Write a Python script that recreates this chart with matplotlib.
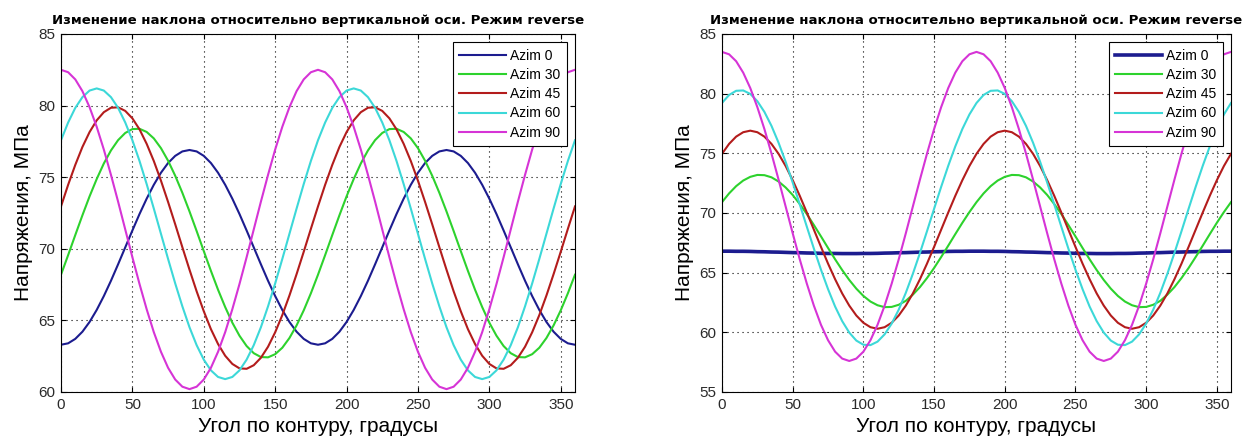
import matplotlib
matplotlib.use("Agg")
import matplotlib.pyplot as plt

# ---------------- data (every 5 degrees) ----------------
angles = [0, 5, 10, 15, 20, 25, 30, 35, 40, 45, 50, 55, 60, 65, 70, 75, 80, 85,
          90, 95, 100, 105, 110, 115, 120, 125, 130, 135, 140, 145, 150, 155, 160, 165, 170, 175,
          180, 185, 190, 195, 200, 205, 210, 215, 220, 225, 230, 235, 240, 245, 250, 255, 260, 265,
          270, 275, 280, 285, 290, 295, 300, 305, 310, 315, 320, 325, 330, 335, 340, 345, 350, 355, 360]

labels = ["Azim 0", "Azim 30", "Azim 45", "Azim 60", "Azim 90"]

# left panel
azim0_left = [63.30, 63.40, 63.71, 64.21, 64.89, 65.73, 66.70, 67.77, 68.92, 70.10, 71.28, 72.43, 73.50, 74.47, 75.31, 75.99, 76.49, 76.80,
              76.90, 76.80, 76.49, 75.99, 75.31, 74.47, 73.50, 72.43, 71.28, 70.10, 68.92, 67.77, 66.70, 65.73, 64.89, 64.21, 63.71, 63.40,
              63.30, 63.40, 63.71, 64.21, 64.89, 65.73, 66.70, 67.77, 68.92, 70.10, 71.28, 72.43, 73.50, 74.47, 75.31, 75.99, 76.49, 76.80,
              76.90, 76.80, 76.49, 75.99, 75.31, 74.47, 73.50, 72.43, 71.28, 70.10, 68.92, 67.77, 66.70, 65.73, 64.89, 64.21, 63.71, 63.40,
              63.30]
azim30_left = [68.19, 69.56, 70.96, 72.34, 73.66, 74.87, 75.96, 76.87, 77.59, 78.09, 78.36, 78.38, 78.16, 77.71, 77.03, 76.15, 75.10, 73.91,
               72.61, 71.24, 69.84, 68.46, 67.14, 65.93, 64.84, 63.93, 63.21, 62.71, 62.44, 62.42, 62.64, 63.09, 63.77, 64.65, 65.70, 66.89,
               68.19, 69.56, 70.96, 72.34, 73.66, 74.87, 75.96, 76.87, 77.59, 78.09, 78.36, 78.38, 78.16, 77.71, 77.03, 76.15, 75.10, 73.91,
               72.61, 71.24, 69.84, 68.46, 67.14, 65.93, 64.84, 63.93, 63.21, 62.71, 62.44, 62.42, 62.64, 63.09, 63.77, 64.65, 65.70, 66.89,
               68.19]
azim45_left = [72.96, 74.47, 75.86, 77.11, 78.15, 78.97, 79.54, 79.85, 79.88, 79.63, 79.11, 78.34, 77.33, 76.13, 74.76, 73.27, 71.71, 70.11,
               68.54, 67.03, 65.64, 64.39, 63.35, 62.53, 61.96, 61.65, 61.62, 61.87, 62.39, 63.16, 64.17, 65.37, 66.74, 68.23, 69.79, 71.39,
               72.96, 74.47, 75.86, 77.11, 78.15, 78.97, 79.54, 79.85, 79.88, 79.63, 79.11, 78.34, 77.33, 76.13, 74.76, 73.27, 71.71, 70.11,
               68.54, 67.03, 65.64, 64.39, 63.35, 62.53, 61.96, 61.65, 61.62, 61.87, 62.39, 63.16, 64.17, 65.37, 66.74, 68.23, 69.79, 71.39,
               72.96]
azim60_left = [77.58, 78.82, 79.84, 80.59, 81.05, 81.20, 81.05, 80.59, 79.84, 78.82, 77.58, 76.13, 74.52, 72.81, 71.05, 69.29, 67.58, 65.98,
               64.52, 63.27, 62.26, 61.51, 61.05, 60.90, 61.05, 61.51, 62.26, 63.27, 64.52, 65.98, 67.58, 69.29, 71.05, 72.81, 74.52, 76.13,
               77.58, 78.82, 79.84, 80.59, 81.05, 81.20, 81.05, 80.59, 79.84, 78.82, 77.58, 76.13, 74.52, 72.81, 71.05, 69.29, 67.58, 65.98,
               64.52, 63.27, 62.26, 61.51, 61.05, 60.90, 61.05, 61.51, 62.26, 63.27, 64.52, 65.98, 67.58, 69.29, 71.05, 72.81, 74.52, 76.13,
               77.58]
azim90_left = [82.50, 82.33, 81.83, 81.01, 79.89, 78.52, 76.93, 75.16, 73.29, 71.35, 69.41, 67.54, 65.78, 64.18, 62.81, 61.69, 60.87, 60.37,
               60.20, 60.37, 60.87, 61.69, 62.81, 64.18, 65.78, 67.54, 69.41, 71.35, 73.29, 75.16, 76.93, 78.52, 79.89, 81.01, 81.83, 82.33,
               82.50, 82.33, 81.83, 81.01, 79.89, 78.52, 76.93, 75.16, 73.29, 71.35, 69.41, 67.54, 65.78, 64.18, 62.81, 61.69, 60.87, 60.37,
               60.20, 60.37, 60.87, 61.69, 62.81, 64.18, 65.78, 67.54, 69.41, 71.35, 73.29, 75.16, 76.93, 78.52, 79.89, 81.01, 81.83, 82.33,
               82.50]

# right panel
azim0_right = [66.80, 66.80, 66.79, 66.79, 66.78, 66.76, 66.75, 66.73, 66.72, 66.70, 66.68, 66.67, 66.65, 66.64, 66.62, 66.61, 66.61, 66.60,
               66.60, 66.60, 66.61, 66.61, 66.62, 66.64, 66.65, 66.67, 66.68, 66.70, 66.72, 66.73, 66.75, 66.76, 66.78, 66.79, 66.79, 66.80,
               66.80, 66.80, 66.79, 66.79, 66.78, 66.76, 66.75, 66.73, 66.72, 66.70, 66.68, 66.67, 66.65, 66.64, 66.62, 66.61, 66.61, 66.60,
               66.60, 66.60, 66.61, 66.61, 66.62, 66.64, 66.65, 66.67, 66.68, 66.70, 66.72, 66.73, 66.75, 66.76, 66.78, 66.79, 66.79, 66.80,
               66.80]
azim30_right = [70.91, 71.64, 72.25, 72.72, 73.03, 73.19, 73.17, 72.99, 72.64, 72.14, 71.51, 70.75, 69.91, 68.99, 68.04, 67.07, 66.12, 65.22,
                64.39, 63.66, 63.05, 62.58, 62.27, 62.11, 62.13, 62.31, 62.64, 63.16, 63.79, 64.55, 65.39, 66.31, 67.26, 68.23, 69.18, 70.08,
                70.91, 71.64, 72.25, 72.72, 73.03, 73.19, 73.17, 72.99, 72.64, 72.14, 71.51, 70.75, 69.91, 68.99, 68.04, 67.07, 66.12, 65.22,
                64.39, 63.66, 63.05, 62.58, 62.27, 62.11, 62.13, 62.31, 62.64, 63.16, 63.79, 64.55, 65.39, 66.31, 67.26, 68.23, 69.18, 70.08,
                70.91]
azim45_right = [74.96, 75.79, 76.40, 76.77, 76.90, 76.77, 76.40, 75.79, 74.96, 73.94, 72.75, 71.44, 70.04, 68.60, 67.16, 65.76, 64.45, 63.26,
                62.24, 61.41, 60.80, 60.43, 60.30, 60.43, 60.80, 61.41, 62.24, 63.26, 64.45, 65.76, 67.16, 68.60, 70.04, 71.44, 72.75, 73.94,
                74.96, 75.79, 76.40, 76.77, 76.90, 76.77, 76.40, 75.79, 74.96, 73.94, 72.75, 71.44, 70.04, 68.60, 67.16, 65.76, 64.45, 63.26,
                62.24, 61.41, 60.80, 60.43, 60.30, 60.43, 60.80, 61.41, 62.24, 63.26, 64.45, 65.76, 67.16, 68.60, 70.04, 71.44, 72.75, 73.94,
                74.96]
azim60_right = [79.22, 79.89, 80.24, 80.27, 79.98, 79.37, 78.47, 77.30, 75.89, 74.29, 72.55, 70.72, 68.85, 67.01, 65.25, 63.62, 62.16, 60.94,
                59.98, 59.31, 58.96, 58.93, 59.22, 59.83, 60.73, 61.90, 63.31, 64.91, 66.65, 68.48, 70.35, 72.19, 73.95, 75.58, 77.04, 78.26,
                79.22, 79.89, 80.24, 80.27, 79.98, 79.37, 78.47, 77.30, 75.89, 74.29, 72.55, 70.72, 68.85, 67.01, 65.25, 63.62, 62.16, 60.94,
                59.98, 59.31, 58.96, 58.93, 59.22, 59.83, 60.73, 61.90, 63.31, 64.91, 66.65, 68.48, 70.35, 72.19, 73.95, 75.58, 77.04, 78.26,
                79.22]
azim90_right = [83.50, 83.30, 82.72, 81.76, 80.47, 78.87, 77.03, 74.98, 72.80, 70.55, 68.30, 66.12, 64.08, 62.23, 60.63, 59.34, 58.38, 57.80,
                57.60, 57.80, 58.38, 59.34, 60.63, 62.23, 64.08, 66.12, 68.30, 70.55, 72.80, 74.98, 77.03, 78.87, 80.47, 81.76, 82.72, 83.30,
                83.50, 83.30, 82.72, 81.76, 80.47, 78.87, 77.03, 74.98, 72.80, 70.55, 68.30, 66.12, 64.08, 62.23, 60.63, 59.34, 58.38, 57.80,
                57.60, 57.80, 58.38, 59.34, 60.63, 62.23, 64.08, 66.12, 68.30, 70.55, 72.80, 74.98, 77.03, 78.87, 80.47, 81.76, 82.72, 83.30,
                83.50]

x_ticks = [0, 50, 100, 150, 200, 250, 300, 350]
y_ticks_left = [60, 65, 70, 75, 80, 85]
y_ticks_right = [55, 60, 65, 70, 75, 80, 85]

title_text = "Изменение наклона относительно вертикальной оси. Режим reverse"
xlabel_text = "Угол по контуру, градусы"
ylabel_text = "Напряжения, МПа"

# ---------------- styling ----------------
colors = ["#1c1c8f", "#2dd22d", "#b31c1c", "#3cd8d8", "#d634d6"]
plt.rcParams["font.family"] = ["Liberation Sans", "DejaVu Sans"]

W, H = 1248, 437
fig = plt.figure(figsize=(W / 100, H / 100), dpi=100)
fig.patch.set_facecolor("white")

panels = [
    dict(rect=(61, 34, 575, 392), series=[azim0_left, azim30_left, azim45_left, azim60_left, azim90_left],
         ylim=(60, 85), yticks=y_ticks_left, lw=[1.5, 1.5, 1.5, 1.5, 1.5]),
    dict(rect=(722, 34, 1231, 392), series=[azim0_right, azim30_right, azim45_right, azim60_right, azim90_right],
         ylim=(55, 85), yticks=y_ticks_right, lw=[2.6, 1.5, 1.5, 1.5, 1.5]),
]

for p in panels:
    x0, y0, x1, y1 = p["rect"]
    ax = fig.add_axes([x0 / W, 1 - y1 / H, (x1 - x0) / W, (y1 - y0) / H])
    for vals, lab, c, lw in zip(p["series"], labels, colors, p["lw"]):
        ax.plot(angles, vals, color=c, lw=lw, label=lab, solid_joinstyle="round")
    ax.set_xlim(0, 360)
    ax.set_ylim(*p["ylim"])
    ax.set_xticks(x_ticks)
    ax.set_yticks(p["yticks"])
    ax.grid(True, color="black", linestyle=(0, (1, 3.5)), linewidth=0.8)
    ax.tick_params(direction="in", length=3.5, width=0.8, top=True, right=True,
                   labelsize=11, labelcolor="#2a2a2a", pad=4)
    for s in ax.spines.values():
        s.set_linewidth(0.8)
        s.set_color("black")
    ax.set_title(title_text, fontsize=9.5, fontweight="bold", family="DejaVu Sans", pad=7)
    ax.set_xlabel(xlabel_text, fontsize=15)
    ax.set_ylabel(ylabel_text, fontsize=15)
    ax.xaxis.set_label_coords(0.5, -0.07)
    ax.yaxis.set_label_coords(-0.055, 0.5)
    leg = ax.legend(loc="upper right", fontsize=10, handlelength=3.4, handletextpad=0.3,
                    labelspacing=0.38, borderpad=0.45, borderaxespad=0.6,
                    fancybox=False, framealpha=1, edgecolor="black")
    leg.get_frame().set_linewidth(0.8)

fig.savefig("out.png", dpi=100)
